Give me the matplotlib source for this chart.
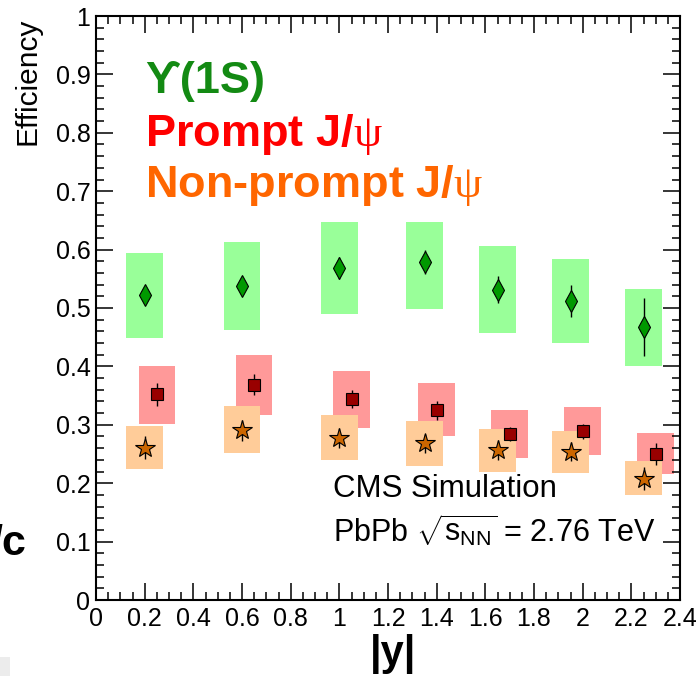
import matplotlib.pyplot as plt
from matplotlib.ticker import MultipleLocator, FormatStrFormatter
from matplotlib.patches import Rectangle

plt.rcParams['font.family'] = ['Liberation Sans', 'DejaVu Sans']
plt.rcParams['mathtext.fontset'] = 'custom'
plt.rcParams['mathtext.rm'] = 'Liberation Sans'
plt.rcParams['mathtext.it'] = 'Liberation Serif'
plt.rcParams['mathtext.bf'] = 'Liberation Sans:bold'

# Upsilon(1S) efficiency vs |y|
ups_y = [0.2, 0.6, 1.0, 1.35, 1.65, 1.95, 2.25]
ups_eff = [0.522, 0.538, 0.569, 0.579, 0.531, 0.512, 0.467]
ups_stat = [0.012, 0.015, 0.019, 0.021, 0.023, 0.027, 0.050]
ups_sys_lo = [0.449, 0.463, 0.490, 0.499, 0.458, 0.440, 0.401]
ups_sys_hi = [0.594, 0.613, 0.647, 0.647, 0.606, 0.584, 0.533]

# prompt J/psi
pr_y = [0.25, 0.65, 1.05, 1.4, 1.7, 2.0, 2.3]
pr_eff = [0.352, 0.369, 0.344, 0.325, 0.285, 0.289, 0.250]
pr_stat = [0.019, 0.018, 0.016, 0.016, 0.012, 0.013, 0.019]
pr_sys_lo = [0.302, 0.316, 0.295, 0.280, 0.244, 0.248, 0.215]
pr_sys_hi = [0.401, 0.420, 0.392, 0.372, 0.325, 0.330, 0.286]

# non-prompt J/psi
np_y = [0.2, 0.6, 1.0, 1.35, 1.65, 1.95, 2.25]
np_eff = [0.261, 0.291, 0.278, 0.268, 0.257, 0.254, 0.208]
np_stat = [0.019, 0.018, 0.017, 0.016, 0.017, 0.016, 0.019]
np_sys_lo = [0.225, 0.251, 0.239, 0.230, 0.220, 0.218, 0.179]
np_sys_hi = [0.298, 0.332, 0.317, 0.307, 0.293, 0.289, 0.238]

W, H = 699, 676
fig = plt.figure(figsize=(W / 100, H / 100), dpi=100)
ax = fig.add_axes([96 / W, 1 - 600 / H, 584 / W, 584 / H])

def px(x, y):
    # pixel position (from top-left) to figure fraction
    return x / W, 1 - y / H

box_w = 0.15
for xs, lo, hi, col in [(ups_y, ups_sys_lo, ups_sys_hi, '#99ff99'),
                        (pr_y, pr_sys_lo, pr_sys_hi, '#ff9999'),
                        (np_y, np_sys_lo, np_sys_hi, '#ffcc99')]:
    ax.bar(xs, [h - l for l, h in zip(lo, hi)], width=box_w, bottom=lo,
           color=col, edgecolor='none', zorder=1)

ax.errorbar(ups_y, ups_eff, yerr=ups_stat, fmt='none', ecolor='black', elinewidth=1, capsize=0, zorder=3)
ax.errorbar(pr_y, pr_eff, yerr=pr_stat, fmt='none', ecolor='black', elinewidth=1, capsize=0, zorder=3)
ax.errorbar(np_y, np_eff, yerr=np_stat, fmt='none', ecolor='black', elinewidth=1, capsize=0, zorder=3)

ax.plot(ups_y, ups_eff, 'd', ms=11, mfc='#009900', mec='black', mew=0.8, ls='none', zorder=4)
ax.plot(pr_y, pr_eff, 's', ms=9, mfc='#990000', mec='black', mew=0.8, ls='none', zorder=4)
ax.plot(np_y, np_eff, '*', ms=14.4, mfc='#cc6600', mec='black', mew=0.8, ls='none', zorder=4)

ax.set_xlim(0, 2.4)
ax.set_ylim(0, 1)
ax.xaxis.set_major_locator(MultipleLocator(0.2))
ax.xaxis.set_minor_locator(MultipleLocator(0.05))
ax.yaxis.set_major_locator(MultipleLocator(0.1))
ax.yaxis.set_minor_locator(MultipleLocator(0.02))
ax.xaxis.set_major_formatter(FormatStrFormatter('%g'))
ax.yaxis.set_major_formatter(FormatStrFormatter('%g'))
ax.tick_params(which='both', direction='in', top=True, right=True, width=1.1, color='black')
ax.tick_params(which='major', length=12.5, labelsize=18)
ax.tick_params(which='minor', length=6)
ax.tick_params(axis='x', pad=5)
ax.tick_params(axis='y', pad=4)
for s in ax.spines.values():
    s.set_linewidth(1.5)

fig.text(*px(28, 18), 'Efficiency', rotation=90, ha='center', va='top', fontsize=21.5)
fig.text(*px(393, 634), '|y|', ha='center', va='top', fontsize=30, fontweight='bold')
fig.text(*px(26, 555), '/c', ha='right', va='baseline', fontsize=31, fontweight='bold')
fig.patches.append(Rectangle(px(0, 676), 10 / W, 19 / H, transform=fig.transFigure,
                             facecolor='#ececec', edgecolor='none'))

fig.text(*px(145, 93), r'ϒ(1S)', color='#138a13', fontsize=32.5, fontweight='bold', va='baseline')
fig.text(*px(145, 146), r'Prompt J/$\psi$', color='#ff0000', fontsize=32.5, fontweight='bold', va='baseline')
fig.text(*px(145, 197), r'Non-prompt J/$\psi$', color='#ff6600', fontsize=32.5, fontweight='bold', va='baseline')

fig.text(*px(333, 497), 'CMS Simulation', fontsize=22.5, va='baseline')
fig.text(*px(333, 542), r'PbPb $\sqrt{\mathrm{s}_{\mathrm{NN}}}$ = 2.76 TeV', fontsize=22, va='baseline')

fig.savefig('out.png', dpi=100)
